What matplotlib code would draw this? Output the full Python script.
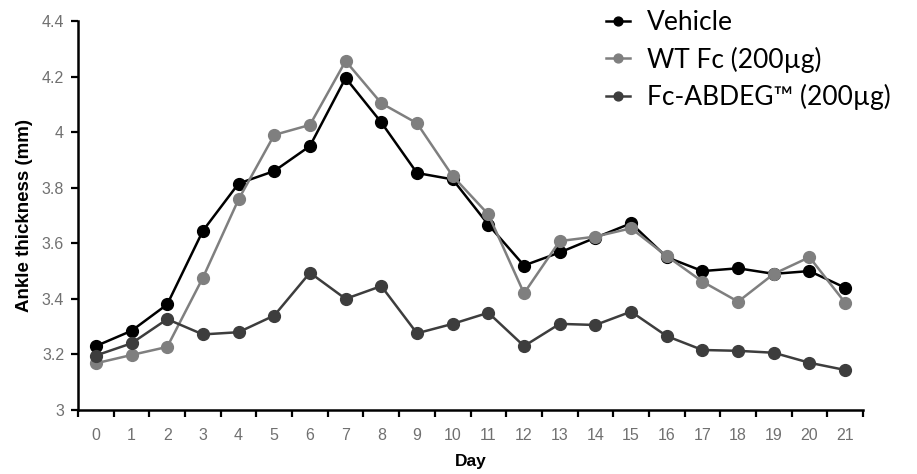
import matplotlib
matplotlib.use("Agg")
import matplotlib.pyplot as plt
from matplotlib.ticker import FixedLocator, FixedFormatter

days = list(range(22))
vehicle = [3.23, 3.285, 3.38, 3.645, 3.815, 3.86, 3.95, 4.195, 4.035, 3.853, 3.83,
           3.667, 3.52, 3.567, 3.62, 3.672, 3.55, 3.50, 3.51, 3.49, 3.50, 3.44]
wt_fc = [3.168, 3.198, 3.227, 3.476, 3.758, 3.99, 4.026, 4.256, 4.104, 4.032, 3.842,
         3.704, 3.42, 3.608, 3.624, 3.654, 3.554, 3.462, 3.39, 3.49, 3.55, 3.386]
fc_abdeg = [3.196, 3.24, 3.327, 3.272, 3.28, 3.34, 3.494, 3.40, 3.446, 3.276, 3.31,
            3.35, 3.23, 3.31, 3.306, 3.354, 3.266, 3.216, 3.213, 3.206, 3.17, 3.144]
series_names = ["Vehicle", "WT Fc (200\u00b5g)", "Fc-ABDEG\u2122 (200\u00b5g)"]
series_colors = ["#000000", "#7f7f7f", "#3d3d3d"]
yticks = [3, 3.2, 3.4, 3.6, 3.8, 4, 4.2, 4.4]
ytick_labels = ["3", "3.2", "3.4", "3.6", "3.8", "4", "4.2", "4.4"]

fig = plt.figure(figsize=(9.17, 4.74), dpi=100)
ax = fig.add_axes([78/917, 1-410/474, 785/917, 389/474])

handles = []
for vals, name, col in zip([vehicle, wt_fc, fc_abdeg], series_names, series_colors):
    h, = ax.plot(days, vals, color=col, lw=1.8, marker="o", markersize=8.5,
                 markerfacecolor=col, markeredgecolor=col, label=name)
    handles.append(h)

ax.set_xlim(-0.5, 21.5)
ax.set_ylim(3, 4.4)
for s in ["top", "right"]:
    ax.spines[s].set_visible(False)
for s in ["left", "bottom"]:
    ax.spines[s].set_linewidth(1.8)

fam = ["Liberation Sans", "DejaVu Sans"]
ax.xaxis.set_major_locator(FixedLocator(days))
ax.xaxis.set_major_formatter(FixedFormatter([str(d) for d in days]))
ax.xaxis.set_minor_locator(FixedLocator([d - 0.5 for d in days] + [21.5]))
ax.tick_params(axis="x", which="major", length=0, pad=13)
ax.tick_params(axis="x", which="minor", length=5, width=1.6, direction="out")
ax.set_yticks(yticks)
ax.set_yticklabels(ytick_labels)
ax.tick_params(axis="y", length=5, width=1.6, direction="out", pad=5)
for lab in ax.get_xticklabels() + ax.get_yticklabels():
    lab.set_fontfamily(fam)
    lab.set_fontsize(11.5)
    lab.set_color("#707070")

ax.set_xlabel("Day", fontsize=12.5, fontweight="bold", family=fam, labelpad=8)
ax.set_ylabel("Ankle thickness (mm)", fontsize=13.5, fontweight="bold",
              family=fam, labelpad=6)

fig.legend(handles=handles, labels=series_names, loc="upper left",
           bbox_to_anchor=(582/917, 1.028), frameon=False,
           prop=dict(family=["Lato", "DejaVu Sans"], size=19),
           handlelength=0.9, handletextpad=0.65, labelspacing=0.42,
           markerscale=0.75)

fig.savefig("out.png", dpi=100)
